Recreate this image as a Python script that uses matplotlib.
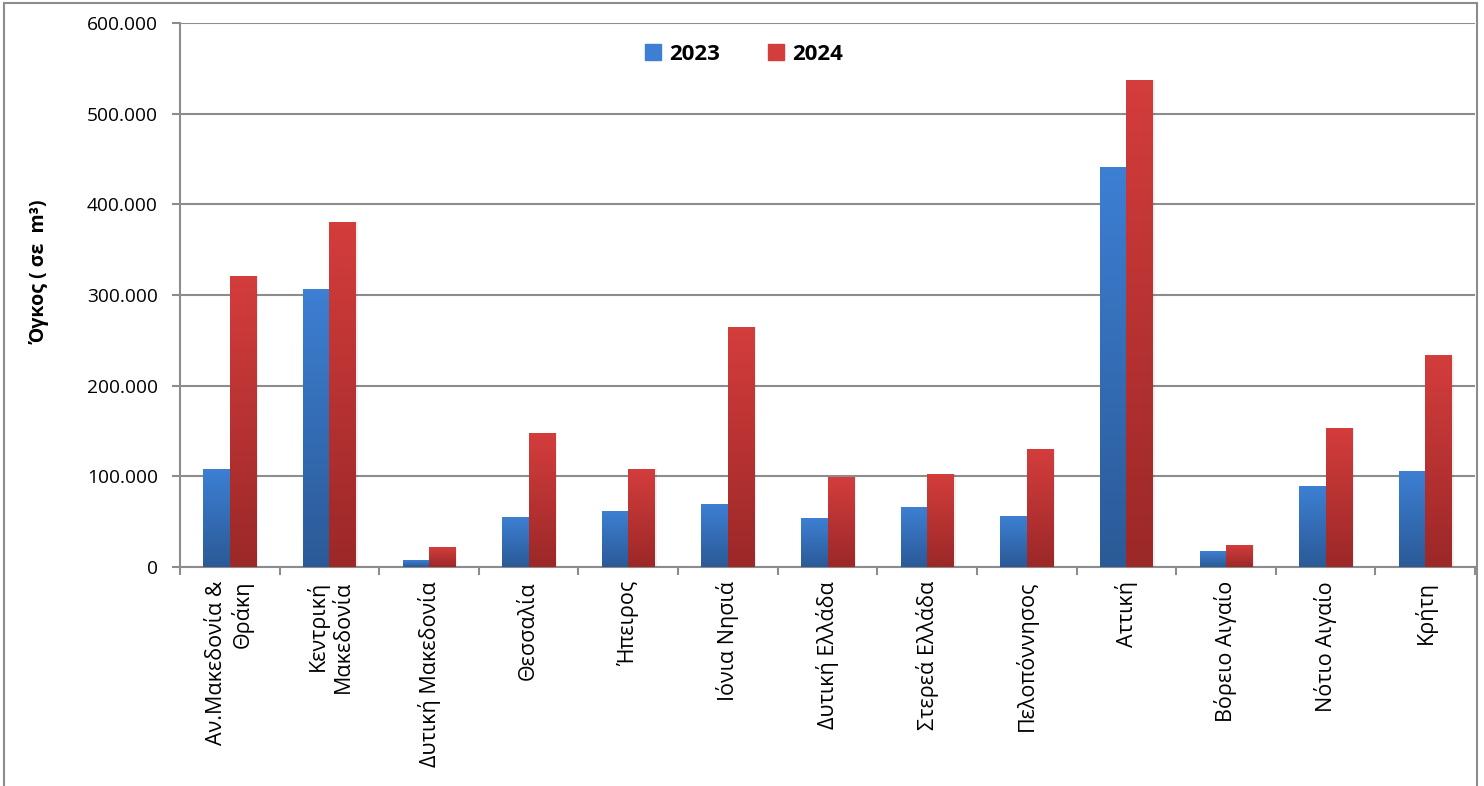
import numpy as np
import matplotlib
matplotlib.use("Agg")
import matplotlib.pyplot as plt
from matplotlib.colors import LinearSegmentedColormap
from matplotlib.ticker import FuncFormatter, FixedLocator
from matplotlib.lines import Line2D
from matplotlib.patches import Rectangle

plt.rcParams['font.family'] = ['Open Sans', 'DejaVu Sans']

categories = ["Αν.Μακεδονία &\nΘράκη", "Κεντρική\nΜακεδονία", "Δυτική Μακεδονία",
              "Θεσσαλία", "Ήπειρος", "Ιόνια Νησιά", "Δυτική Ελλάδα", "Στερεά Ελλάδα",
              "Πελοπόννησος", "Αττική", "Βόρειο Αιγαίο", "Νότιο Αιγαίο", "Κρήτη"]
values_2023 = [107800, 306500, 7400, 54900, 61500, 69200, 53800, 65900, 56000,
               440500, 16800, 89000, 105000]
values_2024 = [320900, 380500, 21700, 147600, 108000, 264600, 99000, 102300, 130000,
               537000, 24000, 153000, 233000]
series_labels = ["2023", "2024"]
yticks = [0, 100000, 200000, 300000, 400000, 500000, 600000]

blue_top, blue_bot = "#3d7fd3", "#2b5a97"
red_top, red_bot = "#d33d3c", "#9c2828"

fig = plt.figure(figsize=(14.84, 7.86), dpi=100)
ax = fig.add_axes([180/1484, 1-567/786, (1475-180)/1484, (567-23)/786])

x = np.arange(len(categories))
w = 0.265
bars_a = ax.bar(x - w/2, values_2023, width=w, color=blue_top, zorder=3)
bars_b = ax.bar(x + w/2, values_2024, width=w, color=red_top, zorder=3)

def grad(bars, top, bot):
    cmap = LinearSegmentedColormap.from_list("g", [bot, top])
    for b in bars:
        x0 = b.get_x(); x1 = x0 + b.get_width(); h = b.get_height()
        img = np.linspace(0, 1, 64).reshape(-1, 1)
        ax.imshow(img, cmap=cmap, origin='lower', aspect='auto',
                  extent=(x0, x1, 0, h), zorder=4, interpolation='bilinear')
        ax.add_patch(Rectangle((x1, 0), 0.02, h, color='#000000', alpha=0.06,
                               zorder=2, linewidth=0))

grad(bars_a, blue_top, blue_bot)
grad(bars_b, red_top, red_bot)

ax.set_xlim(-0.5, len(categories) - 0.5)
ax.set_ylim(0, 600000)
ax.set_yticks(yticks)
ax.yaxis.set_major_formatter(FuncFormatter(lambda v, p: f"{int(v):,}".replace(",", ".")))
ax.yaxis.grid(True, color="#8c8c8c", linewidth=1.5, zorder=1)
ax.set_axisbelow(True)

ax.set_xticks(x)
ax.set_xticklabels(categories, rotation=90, ha='center', va='top',
                   multialignment='right', fontsize=15.5, linespacing=1.25)
ax.xaxis.set_minor_locator(FixedLocator(np.arange(-0.5, len(categories) + 0.5, 1)))
ax.tick_params(axis='x', which='major', length=0, pad=10)
ax.tick_params(axis='x', which='minor', length=6, width=1.5, color="#8c8c8c")
ax.tick_params(axis='y', length=6, width=1.5, color="#8c8c8c", labelsize=13.8, pad=10)

for s in ['top', 'right']:
    ax.spines[s].set_visible(False)
for s in ['left', 'bottom']:
    ax.spines[s].set_color("#8c8c8c")
    ax.spines[s].set_linewidth(1.5)

ax.set_ylabel("Όγκος ( σε  m³)", fontsize=14, fontweight='bold', labelpad=0)
ax.yaxis.set_label_coords(-130/1295, (567-272)/544)

handles = [Rectangle((0, 0), 1, 1, color=blue_top), Rectangle((0, 0), 1, 1, color=red_top)]
leg = ax.legend(handles, series_labels, loc='center', bbox_to_anchor=((744-180)/1295, (567-54)/544),
                ncol=2, frameon=False, prop={'weight': 'bold', 'size': 16},
                handlelength=0.7, handleheight=0.7, handletextpad=0.35, columnspacing=2.2)

fig.add_artist(Line2D([4/1484, 4/1484], [0, 1-3/786], color="#8c8c8c", lw=1.5, transform=fig.transFigure))
fig.add_artist(Line2D([4/1484, 1477/1484], [1-3/786, 1-3/786], color="#8c8c8c", lw=1.5, transform=fig.transFigure))
fig.add_artist(Line2D([1477/1484, 1477/1484], [0, 1-3/786], color="#8c8c8c", lw=1.5, transform=fig.transFigure))

fig.savefig("out.png", dpi=100)
